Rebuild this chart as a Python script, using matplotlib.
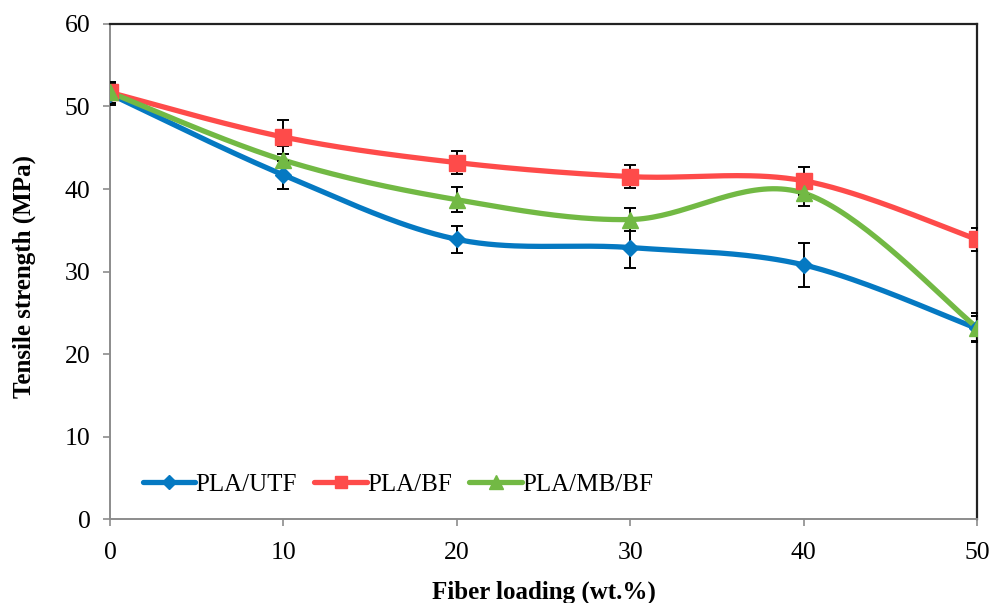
import numpy as np
import matplotlib
matplotlib.use("Agg")
import matplotlib.pyplot as plt
from matplotlib.lines import Line2D

# fiber loading (wt.%)
loading = [0, 10, 20, 30, 40, 50]

# tensile strength (MPa) and standard deviations
utf = [51.5, 41.7, 33.9, 32.9, 30.8, 23.1]
utf_err = [1.3, 1.7, 1.6, 2.5, 2.7, 1.5]
bf = [51.7, 46.3, 43.2, 41.5, 41.0, 33.9]
bf_err = [1.3, 2.1, 1.4, 1.4, 1.7, 1.4]
mbbf = [51.7, 43.5, 38.7, 36.3, 39.5, 23.2]
mbbf_err = [1.3, 1.7, 1.5, 1.4, 1.6, 1.75]

labels = ["PLA/UTF", "PLA/BF", "PLA/MB/BF"]
colors = ["#0579c2", "#fe4b4a", "#72b944"]
markers = ["D", "s", "^"]
msizes = [8, 11, 12]


def smooth(xs, ys, n=40):
    # Excel-like smoothed line (Catmull-Rom as cubic bezier)
    p = np.column_stack([xs, ys]).astype(float)
    p = np.vstack([p[0], p, p[-1]])
    out = []
    t = np.linspace(0, 1, n)[:, None]
    for i in range(1, len(p) - 2):
        p0, p3 = p[i], p[i + 1]
        c1 = p0 + (p[i + 1] - p[i - 1]) / 6
        c2 = p3 - (p[i + 2] - p[i]) / 6
        seg = ((1 - t) ** 3) * p0 + 3 * ((1 - t) ** 2) * t * c1 + 3 * (1 - t) * t ** 2 * c2 + t ** 3 * p3
        out.append(seg if i == 1 else seg[1:])
    out = np.vstack(out)
    return out[:, 0], out[:, 1]


plt.rcParams["font.family"] = ["Liberation Serif", "DejaVu Serif"]

fig = plt.figure(figsize=(9.92, 6.03), dpi=100)
ax = fig.add_axes([0.1109, 0.1393, 0.8741, 0.8209])

series = [(utf, utf_err), (bf, bf_err), (mbbf, mbbf_err)]
handles = []
for k, (vals, errs) in enumerate(series):
    sx, sy = smooth(loading, vals)
    ax.plot(sx, sy, color=colors[k], lw=3.8, solid_capstyle="round", zorder=2 + k)
    ax.errorbar(loading, vals, yerr=errs, fmt="none", ecolor="black",
                elinewidth=1.4, capsize=4, capthick=1.4, zorder=5)
    ax.plot(loading, vals, ls="none", marker=markers[k], ms=msizes[k],
            color=colors[k], mec=colors[k], zorder=6 + k)
    handles.append(Line2D([], [], color=colors[k], lw=3.8, marker=markers[k],
                          ms=msizes[k] * 0.85, solid_capstyle="round"))

ax.set_xlim(0, 50)
ax.set_ylim(0, 60)
ax.set_xticks(loading)
ax.set_yticks(range(0, 61, 10))
ax.tick_params(axis="both", labelsize=18.5, direction="out", length=5,
               width=1.2, color="#8c8c8c")
ax.tick_params(axis="x", pad=11.5)
ax.tick_params(axis="y", pad=9)

for side in ["left", "bottom"]:
    ax.spines[side].set_color("#8c8c8c")
    ax.spines[side].set_linewidth(1.4)
for side in ["top", "right"]:
    ax.spines[side].set_color("#222222")
    ax.spines[side].set_linewidth(1.6)

ax.set_xlabel("Fiber loading (wt.%)", fontsize=18, fontweight="bold")
ax.set_ylabel("Tensile strength (MPa)", fontsize=18, fontweight="bold")
ax.xaxis.set_label_coords(0.5, -0.124)
ax.yaxis.set_label_coords(-0.085, 0.49)

ax.legend(handles, labels, ncol=3, frameon=False, fontsize=18,
          loc="center left", bbox_to_anchor=(0.038, 0.07),
          borderaxespad=0, borderpad=0,
          handlelength=2.1, handletextpad=0.0, columnspacing=0.7)

fig.savefig("out.png", dpi=100)
